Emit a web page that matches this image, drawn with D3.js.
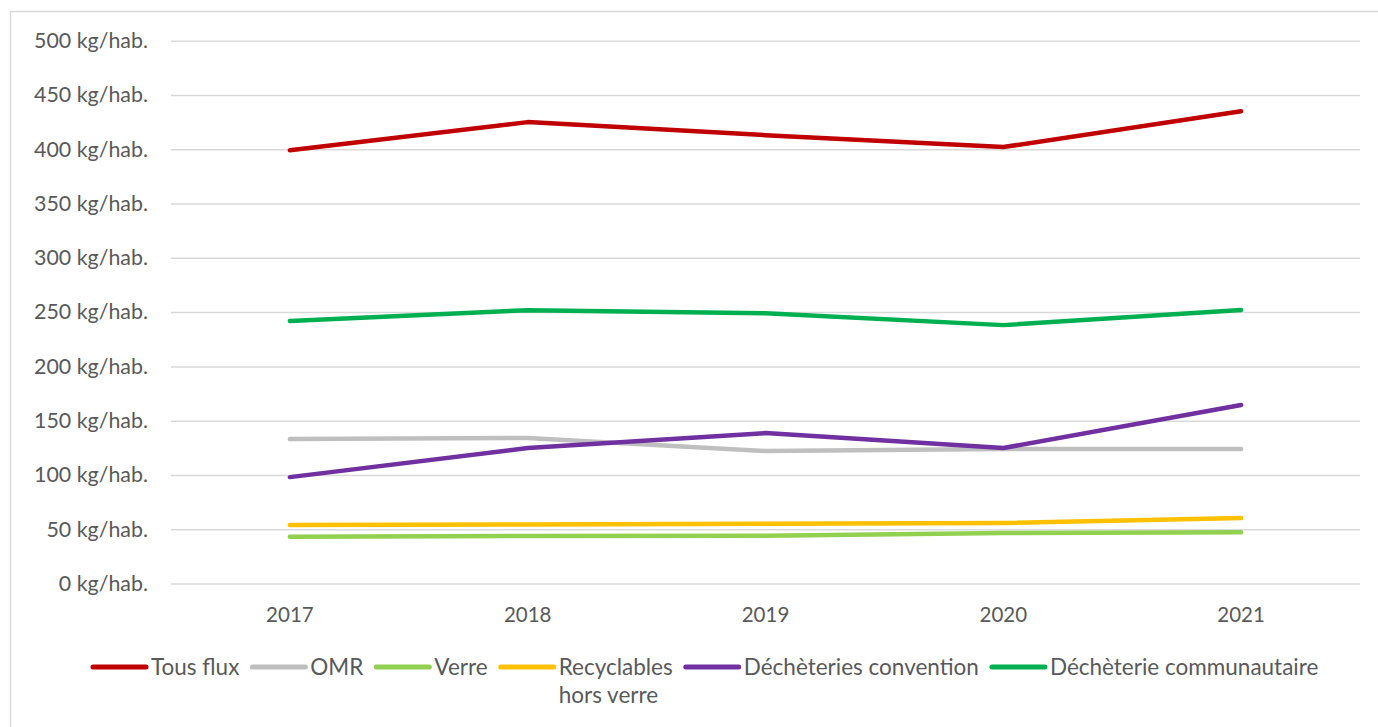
<!DOCTYPE html>
<html>
<head>
<meta charset="utf-8">
<script src="https://cdn.jsdelivr.net/npm/d3@7"></script>
<style>
  body { margin: 0; background: #fff; }
  text { font-family: Lato, "Noto Sans", sans-serif; fill: #595959; }
</style>
</head>
<body>
<script>
var width = 1378,
    height = 727;

// data
var years = ["2017", "2018", "2019", "2020", "2021"];
var yTicks = [0, 50, 100, 150, 200, 250, 300, 350, 400, 450, 500];

var seriesNames = ["Tous flux", "OMR", "Verre", "Recyclables hors verre", "Déchèteries convention", "Déchèterie communautaire"];
var seriesColors = ["#C00000", "#BFBFBF", "#92D050", "#FFC000", "#7030A0", "#00B050"];

var tousFlux     = [399, 425, 413, 402, 435];
var omr          = [133, 134, 122, 124, 124];
var verre        = [43, 43.7, 44, 46.5, 47.2];
var recyclables  = [54, 54.3, 55, 55.7, 60.3];
var dechConv     = [98, 124.8, 138.6, 124.8, 164.5];
var dechComm     = [241.7, 251.8, 249, 238, 252];

var seriesValues = [tousFlux, omr, verre, recyclables, dechConv, dechComm];

var svg = d3.select("body").append("svg")
    .attr("width", width)
    .attr("height", height);

// outer frame
svg.append("rect")
    .attr("x", 10.5)
    .attr("y", 11.5)
    .attr("width", width + 20)
    .attr("height", height + 20)
    .attr("fill", "none")
    .attr("stroke", "#D9D9D9")
    .attr("stroke-width", 1.5);

var plotLeft = 171, plotRight = 1360;

var x = d3.scalePoint()
    .domain(years)
    .range([plotLeft, plotRight])
    .padding(0.5);

var y = d3.scaleLinear()
    .domain([0, 500])
    .range([583.5, 40.7]);

// y axis with gridlines
var yAxis = svg.append("g")
    .attr("transform", "translate(" + plotLeft + ",0)")
    .call(d3.axisLeft(y)
        .tickValues(yTicks)
        .tickSize(-(plotRight - plotLeft))
        .tickPadding(23)
        .tickFormat(function(d) { return d + " kg/hab."; }));

yAxis.select(".domain").remove();
yAxis.selectAll(".tick line")
    .attr("stroke", "#D9D9D9")
    .attr("stroke-width", 1.5);
yAxis.selectAll(".tick text")
    .attr("font-size", 21.4)
    .attr("fill", "#595959")
    .style("font-family", "Lato, 'Noto Sans', sans-serif");

// x labels
svg.append("g").selectAll("text")
    .data(years)
    .enter().append("text")
    .attr("x", function(d) { return x(d); })
    .attr("y", 622)
    .attr("text-anchor", "middle")
    .attr("font-size", 20.5)
    .text(function(d) { return d; });

// series lines
var line = d3.line()
    .x(function(d, i) { return x(years[i]); })
    .y(function(d) { return y(d); });

svg.append("g").selectAll("path")
    .data(seriesValues)
    .enter().append("path")
    .attr("d", line)
    .attr("fill", "none")
    .attr("stroke", function(d, i) { return seriesColors[i]; })
    .attr("stroke-width", 4.5)
    .attr("stroke-linecap", "round")
    .attr("stroke-linejoin", "round");

// legend
var legend = svg.append("g");
var lx = 93, ly = 667;
seriesNames.forEach(function(name, i) {
  legend.append("line")
      .attr("x1", lx).attr("x2", lx + 53)
      .attr("y1", ly).attr("y2", ly)
      .attr("stroke", seriesColors[i])
      .attr("stroke-width", 5)
      .attr("stroke-linecap", "round");
  var t = legend.append("text")
      .attr("x", lx + 58)
      .attr("y", ly + 8)
      .attr("font-size", 22.5);
  var lines = name === "Recyclables hors verre" ? ["Recyclables", "hors verre"] : [name];
  lines.forEach(function(s, j) {
    t.append("tspan")
        .attr("x", lx + 58)
        .attr("dy", j === 0 ? 0 : 28)
        .text(s);
  });
  var w = t.node().getBBox().width;
  lx = lx + 58 + w + 13;
});
</script>
</body>
</html>
